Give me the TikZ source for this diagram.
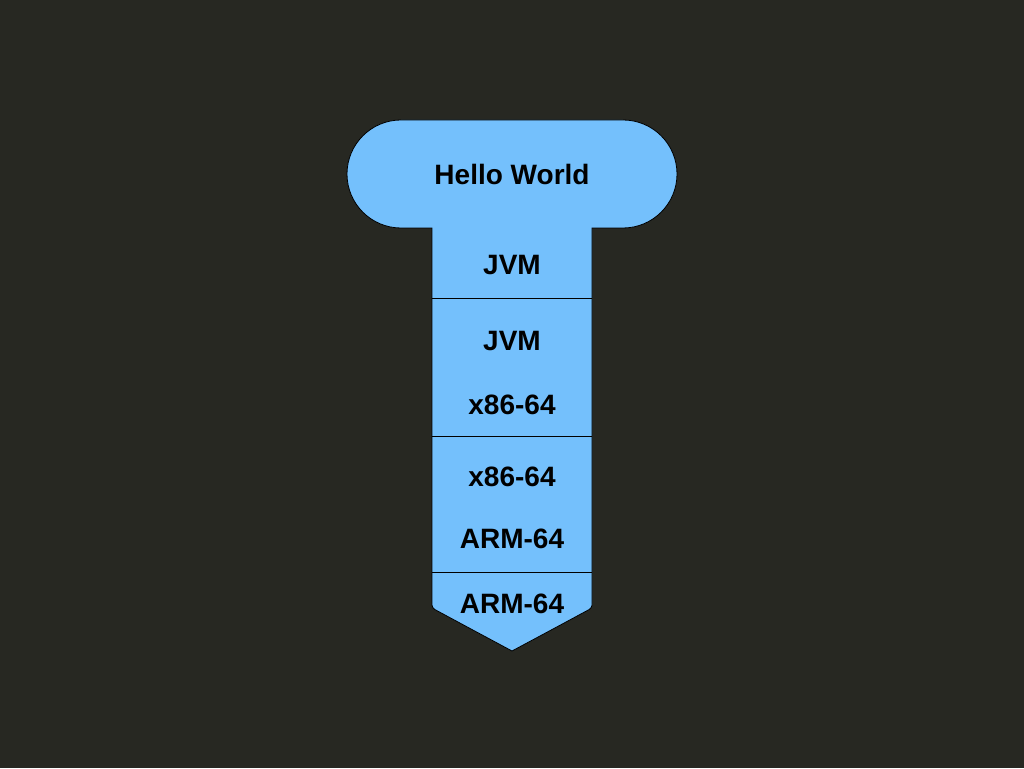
\documentclass[tikz,border=0pt]{standalone}
\usepackage{fontspec}
\setmainfont{Liberation Sans}
\definecolor{bgc}{HTML}{272822}
\definecolor{fillc}{HTML}{74C0FC}
\begin{document}
\begin{tikzpicture}[x=1pt,y=1pt,
  lbl/.style={font=\fontsize{28}{32}\selectfont\bfseries, text=black, inner sep=0pt, anchor=center},
  outl/.style={draw=black, line width=0.8pt, fill=fillc},
  divider/.style={draw=black, line width=0.8pt}]
\fill[bgc] (0,0) rectangle (1024,768);
\useasboundingbox (0,0) rectangle (1024,768);
\draw[outl] (432,540) -- (401,540) arc[start angle=270,end angle=90,radius=54]
  -- (623,648) arc[start angle=90,end angle=-90,radius=54]
  -- (592,540) {[rounded corners=3pt] -- (592,160) -- (556,140.6)} -- (512,117) -- (468,140.6) {[rounded corners=3pt] -- (432,160) -- (432,200)} -- cycle;
\coordinate (d1l) at (432,470); \coordinate (d1r) at (592,470);
\coordinate (d2l) at (432,332); \coordinate (d2r) at (592,332);
\coordinate (d3l) at (432,196); \coordinate (d3r) at (592,196);
\draw[divider] (d1l) -- (d1r);
\draw[divider] (d2l) -- (d2r);
\draw[divider] (d3l) -- (d3r);
\node[lbl] (hw) at (512,594) {Hello World};
\node[lbl] (jvm1) at (512,503) {JVM};
\node[lbl] (jvm2) at (512,427) {JVM};
\node[lbl] (x1) at (512,363) {x86-64};
\node[lbl] (x2) at (512,291) {x86-64};
\node[lbl] (arm1) at (512,229) {ARM-64};
\node[lbl] (arm2) at (512,164) {ARM-64};
\end{tikzpicture}
\end{document}
